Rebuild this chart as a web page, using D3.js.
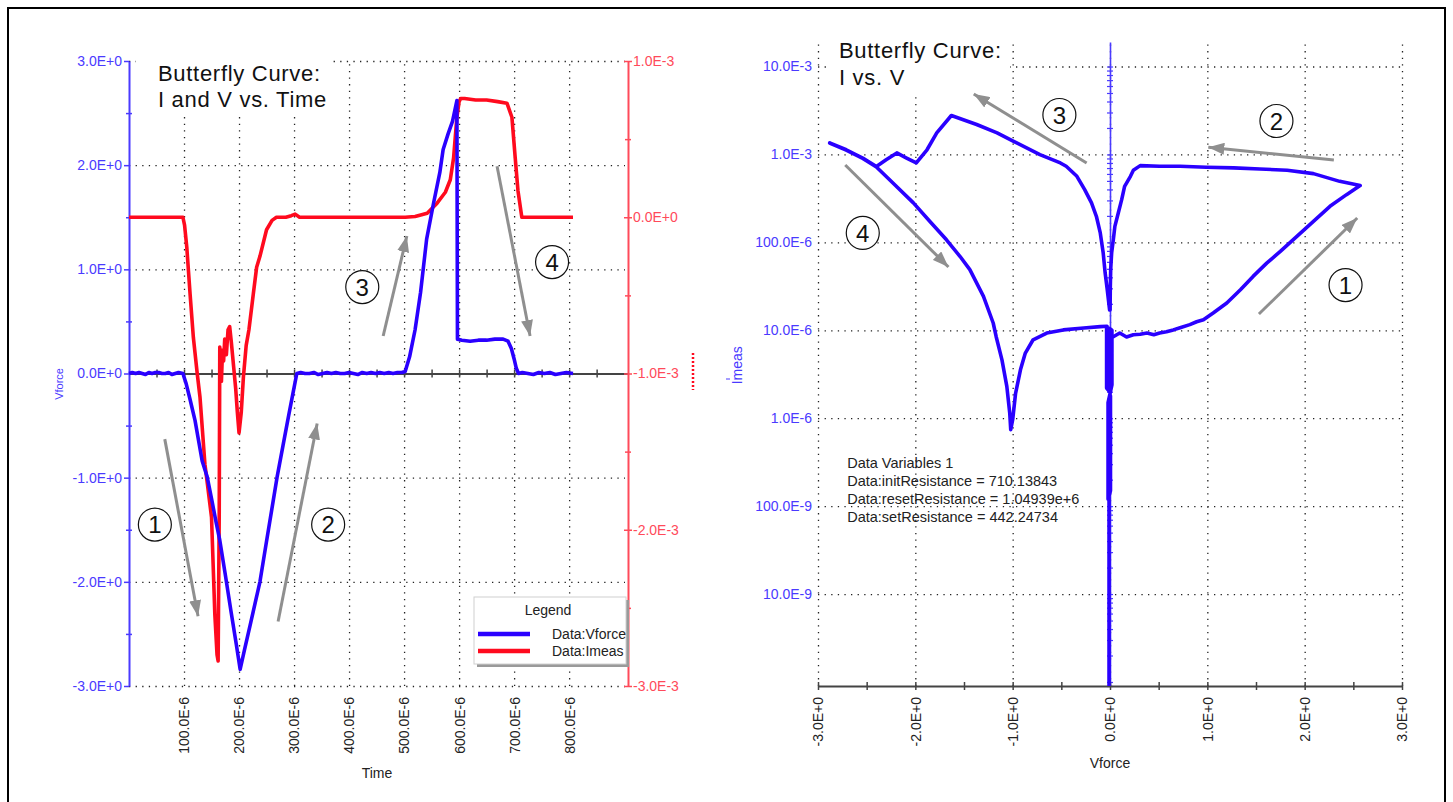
<!DOCTYPE html>
<html><head><meta charset="utf-8">
<script src="https://cdn.jsdelivr.net/npm/d3@7"></script>
<style>
body{margin:0;background:#fff;}
svg{display:block;font-family:"Liberation Sans",Arial,sans-serif;}
</style></head><body>
<svg id="c" width="1453" height="802"></svg>
<script>
// ================= DATA =================
// Left chart: Vforce (V) vs time (µs)
const vforceSeries = [
 [0,0],[6,0.01],[12,0],[18,0.01],[24,0],[30,-0.01],[36,0.01],[42,0],[48,0.01],[54,0.01],[60,0],[66,0],[72,0.01],[78,-0.01],[84,0],[90,0.01],[98,0],
 [104,-0.1],[111,-0.25],[120,-0.45],[133,-0.84],[142,-0.99],[150,-1.2],[158,-1.42],[165,-1.6],[175,-1.93],[185,-2.27],[195,-2.6],[202,-2.84],
 [210,-2.65],[220,-2.42],[238,-2.0],[250,-1.61],[260,-1.29],[269,-1.0],[280,-0.69],[290,-0.41],[298,-0.19],[305,0],
 [312,0.01],[320,0],[328,0],[336,0.01],[344,-0.01],[352,0],[360,0.01],[368,0],[376,0.01],[384,0],[392,0],[400,0.01],[408,0],[416,-0.01],
 [424,0.01],[432,0],[440,0.01],[448,0],[456,0.01],[464,0],[472,0.01],[480,0],[488,0.01],[496,0.01],[502,0.02],
 [510,0.16],[520,0.42],[530,0.78],[541,1.29],[553,1.62],[565,1.93],[571,2.15],[580,2.3],[588,2.42],[596,2.62],
 [597,0.33],[605,0.32],[620,0.31],[635,0.32],[650,0.32],[665,0.33],[680,0.33],[689,0.31],[695,0.24],[700,0.14],[704,0.05],[708,0],
 [715,0.01],[725,0],[735,-0.01],[745,0.01],[755,0],[765,0.01],[775,-0.01],[785,0],[795,0.01],[807,0]
];
// Left chart: Imeas (A) vs time (µs)
const imeasSeries = [
 [0,0],[20,0],[40,0],[60,0],[80,0],[98,0],[101,-0.05e-3],[105,-0.19e-3],[111,-0.49e-3],[117,-0.77e-3],[124,-1.0e-3],[129,-1.15e-3],
 [138,-1.58e-3],[150,-1.92e-3],[156,-2.54e-3],[160,-2.8e-3],[162,-2.84e-3],[164,-1.9e-3],[165,-0.83e-3],[166,-0.95e-3],[168,-1.05e-3],
 [170,-0.85e-3],[172,-0.92e-3],[174,-0.78e-3],[177,-0.88e-3],[180,-0.72e-3],[183,-0.7e-3],[186,-0.8e-3],[190,-0.95e-3],[194,-1.1e-3],
 [197,-1.25e-3],[200,-1.38e-3],[204,-1.25e-3],[208,-1.02e-3],[213,-0.82e-3],[218,-0.72e-3],[226,-0.49e-3],[232,-0.32e-3],[238,-0.25e-3],
 [250,-0.08e-3],[260,-0.02e-3],[268,0],[285,0],[295,0.01e-3],[302,0.02e-3],[310,0],[330,0],[360,0],[400,0],[440,0],[480,0],[502,0],
 [520,0.005e-3],[542,0.026e-3],[560,0.09e-3],[575,0.16e-3],[584,0.24e-3],[590,0.38e-3],[596,0.64e-3],[600,0.74e-3],[603,0.76e-3],
 [610,0.76e-3],[630,0.75e-3],[650,0.75e-3],[670,0.74e-3],[687,0.73e-3],[696,0.64e-3],[702,0.38e-3],[707,0.17e-3],[714,0],
 [730,0],[760,0],[790,0],[807,0]
];
const timeTicks = [100,200,300,400,500,600,700,800];
const timeTickLabels = ["100.0E-6","200.0E-6","300.0E-6","400.0E-6","500.0E-6","600.0E-6","700.0E-6","800.0E-6"];
const vforceTicks = [-3,-2,-1,0,1,2,3];
const vforceTickLabels = ["-3.0E+0","-2.0E+0","-1.0E+0","0.0E+0","1.0E+0","2.0E+0","3.0E+0"];
const imeasTicks = [-3e-3,-2e-3,-1e-3,0,1e-3];
const imeasTickLabels = ["-3.0E-3","-2.0E-3","-1.0E-3","0.0E+0","1.0E-3"];
const legendLabels = ["Data:Vforce","Data:Imeas"];

// Right chart: Imeas (A) vs Vforce (V), in sweep order
const ivSeries = [
 [0.03,8.4e-6],[0.10,9.3e-6],[0.17,8.4e-6],[0.24,8.9e-6],[0.31,9.0e-6],[0.38,9.3e-6],[0.45,8.9e-6],[0.51,9.3e-6],[0.58,9.6e-6],
 [0.65,10.1e-6],[0.72,10.7e-6],[0.82,11.6e-6],[0.89,12.5e-6],[0.96,13.2e-6],[1.06,15.7e-6],[1.2,20.4e-6],[1.34,28.9e-6],[1.47,41e-6],
 [1.61,58e-6],[1.75,79e-6],[1.92,117e-6],[2.09,173e-6],[2.26,257e-6],[2.43,349e-6],[2.57,442e-6],
 [2.36,494e-6],[2.09,605e-6],[1.82,660e-6],[1.54,684e-6],[1.27,703e-6],[0.99,715e-6],[0.72,733e-6],[0.51,735e-6],[0.31,746e-6],
 [0.24,660e-6],[0.21,564e-6],[0.15,434e-6],[0.12,306e-6],[0.085,216e-6],[0.05,152e-6],[0.034,107e-6],[0.017,76e-6],[0.007,49e-6],
 [0.003,30e-6],[0.001,17e-6],[-0.004,17e-6],[-0.03,30e-6],
 [-0.05,45e-6],[-0.07,76e-6],[-0.1,128e-6],[-0.14,198e-6],[-0.19,281e-6],[-0.26,398e-6],[-0.34,564e-6],[-0.45,733e-6],[-0.51,800e-6],
 [-0.72,995e-6],[-0.99,1.41e-3],[-1.16,1.76e-3],[-1.37,2.19e-3],[-1.63,2.77e-3],
 [-1.78,1.76e-3],[-1.88,1.13e-3],[-1.99,0.8e-3],[-2.09,0.91e-3],[-2.19,1.04e-3],[-2.3,0.87e-3],[-2.4,0.73e-3],[-2.54,0.91e-3],
 [-2.71,1.13e-3],[-2.88,1.35e-3],
 [-2.71,1.12e-3],[-2.54,0.9e-3],[-2.40,0.72e-3],[-2.23,474e-6],[-2.02,281e-6],[-1.85,173e-6],[-1.68,107e-6],[-1.54,69e-6],
 [-1.44,49e-6],[-1.30,24.3e-6],[-1.2,12.1e-6],[-1.17,8.5e-6],[-1.11,4.6e-6],[-1.06,2.3e-6],[-1.03,1.14e-6],[-1.02,0.74e-6],
 [-1.0,0.96e-6],[-0.97,1.92e-6],[-0.92,3.55e-6],[-0.87,5.5e-6],[-0.79,7.8e-6],[-0.65,9.3e-6],[-0.48,10.1e-6],[-0.27,10.6e-6],
 [-0.1,11e-6],[-0.03,11.1e-6],
 [-0.035,11e-6],[-0.035,2.2e-6],[-0.005,2e-6],[-0.005,10.5e-6],[0.02,10e-6],[0.02,2.4e-6],
 [-0.02,1.5e-6],[-0.02,0.12e-6],[0.005,0.15e-6],[0.005,1.8e-6],[-0.01,1e-6],[-0.01,9e-10]
];
const ivXTicks = [-3,-2,-1,0,1,2,3];
const ivXTickLabels = ["-3.0E+0","-2.0E+0","-1.0E+0","0.0E+0","1.0E+0","2.0E+0","3.0E+0"];
const ivYTicks = [1e-8,1e-7,1e-6,1e-5,1e-4,1e-3,1e-2];
const ivYTickLabels = ["10.0E-9","100.0E-9","1.0E-6","10.0E-6","100.0E-6","1.0E-3","10.0E-3"];
const dataVariables = ["Data Variables 1","Data:initResistance = 710.13843","Data:resetResistance = 1.04939e+6","Data:setResistance = 442.24734"];

// annotations (data coordinates): [label, cx, cy, tailX, tailY, tipX, tipY]
const leftNotes = [
 ["1",47,-1.45, 65,-0.63, 125.5,-2.33],
 ["2",362,-1.45, 271,-2.38, 342,-0.48],
 ["3",424,0.83, 462,0.36, 505,1.32],
 ["4",769,1.07, 669,1.99, 729,0.36]
];
const rightNotes = [
 ["1",2.42,3.27e-5, 1.53,1.53e-5, 2.54,1.89e-4],
 ["2",1.71,2.4e-3, 2.30,8.65e-4, 1.01,1.21e-3],
 ["3",-0.52,2.81e-3, -0.24,7.98e-4, -1.40,4.87e-3],
 ["4",-2.54,1.28e-4, -2.72,7.59e-4, -1.66,5.25e-5]
];

// ================= DRAW =================
const BLUE="#2a00ff", RED="#ff0a1e", AXBLUE="#4a3aff", AXRED="#ff4a5a", GRAY="#8f8f8f";
const FONT='"Liberation Sans",Arial,sans-serif';
const svg = d3.select("#c");

svg.append("rect").attr("x",8).attr("y",8).attr("width",1437).attr("height",830)
  .attr("fill","none").attr("stroke","#000").attr("stroke-width",2);

const defs = svg.append("defs");
defs.append("marker").attr("id","ah").attr("viewBox","0 0 16 12").attr("refX",16).attr("refY",6)
  .attr("markerWidth",16).attr("markerHeight",12).attr("markerUnits","userSpaceOnUse").attr("orient","auto")
  .append("path").attr("d","M0,0L16,6L0,12Z").attr("fill",GRAY);

function dotted(s){ s.attr("stroke","#222").attr("stroke-width",1.3).attr("stroke-dasharray","1.3,5.3"); }
function styleAxis(g,color,size){
  g.attr("font-family",FONT).attr("font-size",size);
  g.selectAll("text").attr("fill",color);
}

// ---------- LEFT CHART ----------
const xT = d3.scaleLinear([0,907],[129,628]);
const yV = d3.scaleLinear([-3,3],[686,61]);
const yI = d3.scaleLinear([-3e-3,1e-3],[686,61]);

// grid
svg.append("g").attr("transform",`translate(${xT(0)},0)`)
  .call(d3.axisLeft(yV).tickValues(vforceTicks.filter(v=>v!==0)).tickSize(-(xT.range()[1]-xT(0)-3)).tickFormat(""))
  .call(g=>g.select(".domain").remove()).call(g=>g.selectAll("line").call(dotted));
svg.append("g").attr("transform",`translate(0,${yV(-3)})`)
  .call(d3.axisBottom(xT).tickValues(timeTicks).tickSize(-(yV(-3)-yV(3))).tickFormat(""))
  .call(g=>g.select(".domain").remove()).call(g=>g.selectAll("line").call(dotted));

// title box
svg.append("rect").attr("x",136).attr("y",52).attr("width",194).attr("height",63).attr("fill","#fff");
const t1 = svg.append("text").attr("font-family",FONT).attr("font-size",22).attr("fill","#111").attr("letter-spacing",0.7);
t1.append("tspan").attr("x",158).attr("y",81).text("Butterfly Curve:");
t1.append("tspan").attr("x",158).attr("y",107).text("I and V vs. Time");

// time axis line at V=0
const axT = svg.append("g").attr("transform",`translate(0,${yV(0)})`)
  .call(d3.axisBottom(xT).tickValues(d3.range(50,900,50)).tickSize(4).tickSizeOuter(0).tickFormat(""));
axT.select(".domain").attr("stroke","#444").attr("stroke-width",2);
axT.selectAll(".tick line").attr("y1",-4).attr("y2",4).attr("stroke","#444").attr("stroke-width",1.5);

// time tick labels at bottom
const axTL = svg.append("g").attr("transform",`translate(0,${yV(-3)})`)
  .call(d3.axisBottom(xT).tickValues(timeTicks).tickSize(0).tickFormat((d,i)=>timeTickLabels[i]));
axTL.select(".domain").remove();
styleAxis(axTL,"#222",14);
axTL.selectAll("text").attr("transform","rotate(-90)").attr("text-anchor","end").attr("x",-11).attr("y",0).attr("dy","0.35em");

// Vforce axis (left, blue)
const axV = svg.append("g").attr("transform",`translate(${xT(0)},0)`)
  .call(d3.axisLeft(yV).tickValues(vforceTicks).tickSizeInner(5).tickSizeOuter(0).tickPadding(2).tickFormat((d,i)=>vforceTickLabels[i]));
axV.select(".domain").attr("stroke",AXBLUE).attr("stroke-width",2);
axV.selectAll(".tick line").attr("stroke",AXBLUE).attr("stroke-width",1.5);
styleAxis(axV,AXBLUE,14);
const axVm = svg.append("g").attr("transform",`translate(${xT(0)},0)`)
  .call(d3.axisLeft(yV).tickValues(d3.range(-2.5,3,1)).tickSize(3).tickFormat(""));
axVm.select(".domain").remove();
axVm.selectAll("line").attr("x1",-3).attr("x2",3).attr("stroke",AXBLUE).attr("stroke-width",1.5);

// Imeas axis (right, red)
const axI = svg.append("g").attr("transform",`translate(${xT.range()[1]},0)`)
  .call(d3.axisRight(yI).tickValues(imeasTicks).tickSizeInner(4).tickSizeOuter(0).tickPadding(1).tickFormat((d,i)=>imeasTickLabels[i]));
axI.select(".domain").attr("stroke",AXRED).attr("stroke-width",2);
axI.selectAll(".tick line").attr("x1",-4).attr("x2",4).attr("stroke",AXRED).attr("stroke-width",1.5);
styleAxis(axI,AXRED,14);
const axIm = svg.append("g").attr("transform",`translate(${xT.range()[1]},0)`)
  .call(d3.axisRight(yI).tickValues([-2.5e-3,-1.5e-3,-0.5e-3,0.5e-3]).tickSize(3).tickFormat(""));
axIm.select(".domain").remove();
axIm.selectAll("line").attr("x1",-3).attr("x2",3).attr("stroke",AXRED).attr("stroke-width",1.5);

// axis titles
svg.append("text").attr("font-family",FONT).attr("font-size",11).attr("fill",AXBLUE)
  .attr("transform",`translate(63,${yV(-0.1)}) rotate(-90)`).attr("text-anchor","middle").text("Vforce");
svg.append("line").attr("x1",693).attr("x2",693).attr("y1",353).attr("y2",390)
  .attr("stroke",RED).attr("stroke-width",2.5).attr("stroke-dasharray","2,2");
svg.append("text").attr("font-family",FONT).attr("font-size",14).attr("fill","#222")
  .attr("x",377).attr("y",778).attr("text-anchor","middle").text("Time");

// curves
svg.append("path").datum(imeasSeries).attr("fill","none").attr("stroke",RED).attr("stroke-width",3.6)
  .attr("stroke-linejoin","round").attr("d",d3.line().x(d=>xT(d[0])).y(d=>yI(d[1])));
svg.append("path").datum(vforceSeries).attr("fill","none").attr("stroke",BLUE).attr("stroke-width",3.6)
  .attr("stroke-linejoin","round").attr("d",d3.line().x(d=>xT(d[0])).y(d=>yV(d[1])));

// legend
const lg = svg.append("g").attr("transform","translate(474,597)");
lg.append("rect").attr("x",3).attr("y",3).attr("width",152).attr("height",67).attr("fill","#9a9a9a");
lg.append("rect").attr("x",0).attr("y",0).attr("width",152).attr("height",67).attr("fill","#fff").attr("stroke","#d0d0d0");
lg.append("text").attr("x",74).attr("y",18).attr("text-anchor","middle").attr("font-family",FONT).attr("font-size",14).attr("fill","#222").text("Legend");
[BLUE,RED].forEach((c,i)=>{
  lg.append("line").attr("x1",4).attr("x2",56).attr("y1",37+i*17).attr("y2",37+i*17).attr("stroke",c).attr("stroke-width",4.5);
  lg.append("text").attr("x",78).attr("y",42+i*17).attr("font-family",FONT).attr("font-size",14).attr("fill","#222").text(legendLabels[i]);
});

// ---------- RIGHT CHART ----------
const xV = d3.scaleLinear([-3,3],[818,1402]);
const yL = d3.scaleLog([9e-10,1.9e-2],[686,42]);

svg.append("g").attr("transform",`translate(${xV(-3)},0)`)
  .call(d3.axisLeft(yL).tickValues(ivYTicks).tickSize(-(xV(3)-xV(-3))).tickFormat(""))
  .call(g=>g.select(".domain").remove()).call(g=>g.selectAll("line").call(dotted));
svg.append("g").attr("transform",`translate(0,${yL.range()[0]})`)
  .call(d3.axisBottom(xV).tickValues(ivXTicks).tickSize(-(yL.range()[0]-yL.range()[1]+2)).tickFormat(""))
  .call(g=>g.select(".domain").remove()).call(g=>g.selectAll("line").call(dotted));

svg.append("rect").attr("x",826).attr("y",30).attr("width",184).attr("height",67).attr("fill","#fff");
const t2 = svg.append("text").attr("font-family",FONT).attr("font-size",22).attr("fill","#111").attr("letter-spacing",0.7);
t2.append("tspan").attr("x",839).attr("y",58).text("Butterfly Curve:");
t2.append("tspan").attr("x",839).attr("y",85).text("I vs. V");

// y labels (left edge)
const axYL = svg.append("g").attr("transform",`translate(${xV(-3)-3},0)`)
  .call(d3.axisLeft(yL).tickValues(ivYTicks).tickSize(0).tickPadding(3).tickFormat((d,i)=>ivYTickLabels[i]));
axYL.select(".domain").remove();
styleAxis(axYL,AXBLUE,14);
// y axis line at V = 0 with log ticks
const axY0 = svg.append("g").attr("transform",`translate(${xV(0)},0)`)
  .call(d3.axisLeft(yL).tickSize(3).tickSizeOuter(0).tickFormat(""));
axY0.select(".domain").attr("stroke",AXBLUE).attr("stroke-width",1.6);
axY0.selectAll(".tick line").attr("x1",-3).attr("x2",3).attr("stroke",AXBLUE).attr("stroke-width",1.2);

// x axis at bottom
const axX = svg.append("g").attr("transform",`translate(0,${yL.range()[0]})`)
  .call(d3.axisBottom(xV).tickValues(d3.range(-3,3.01,0.5)).tickSize(4).tickSizeOuter(0).tickFormat(""));
axX.select(".domain").attr("stroke","#444").attr("stroke-width",2);
axX.selectAll(".tick line").attr("y1",-4).attr("y2",4).attr("stroke","#444").attr("stroke-width",1.5);
const axXL = svg.append("g").attr("transform",`translate(0,${yL.range()[0]})`)
  .call(d3.axisBottom(xV).tickValues(ivXTicks).tickSize(0).tickFormat((d,i)=>ivXTickLabels[i]));
axXL.select(".domain").remove();
styleAxis(axXL,"#222",14);
axXL.selectAll("text").attr("transform","rotate(-90)").attr("text-anchor","end").attr("x",-11).attr("y",0).attr("dy","0.35em");

svg.append("text").attr("font-family",FONT).attr("font-size",14).attr("fill","#222")
  .attr("x",xV(0)).attr("y",768).attr("text-anchor","middle").text("Vforce");
svg.append("text").attr("font-family",FONT).attr("font-size",14).attr("fill",AXBLUE)
  .attr("transform",`translate(742,${yL(4e-6)}) rotate(-90)`).attr("text-anchor","middle").text("Imeas");
svg.append("line").attr("x1",726).attr("x2",730).attr("y1",379).attr("y2",379).attr("stroke",AXBLUE).attr("stroke-width",1);

svg.append("path").datum(ivSeries).attr("fill","none").attr("stroke",BLUE).attr("stroke-width",3.6)
  .attr("stroke-linejoin","round").attr("d",d3.line().x(d=>xV(d[0])).y(d=>yL(d[1])));

// data variables text
const dv = svg.append("text").attr("font-family",FONT).attr("font-size",14.5).attr("fill","#222");
dataVariables.forEach((s,i)=>dv.append("tspan").attr("x",xV(-2.7)).attr("y",468+i*18).text(s));

// ---------- annotations ----------
function notes(list, sx, sy){
  list.forEach(n=>{
    svg.append("line").attr("x1",sx(n[3])).attr("y1",sy(n[4])).attr("x2",sx(n[5])).attr("y2",sy(n[6]))
      .attr("stroke",GRAY).attr("stroke-width",3).attr("marker-end","url(#ah)");
    svg.append("circle").attr("cx",sx(n[1])).attr("cy",sy(n[2])).attr("r",16.5)
      .attr("fill","#fff").attr("stroke","#111").attr("stroke-width",1.2);
    svg.append("text").attr("x",sx(n[1])).attr("y",sy(n[2])).attr("dy","0.36em").attr("text-anchor","middle")
      .attr("font-family",FONT).attr("font-size",24).attr("fill","#111").text(n[0]);
  });
}
notes(leftNotes, xT, yV);
notes(rightNotes, xV, yL);
</script>
</body></html>
